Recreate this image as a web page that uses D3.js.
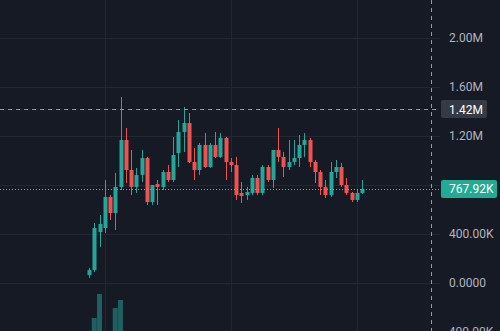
<html>
<head>
<meta charset="utf-8">
<script src="https://d3js.org/d3.v7.min.js"></script>
<style>
  body { margin: 0; background: #161a25; overflow: hidden; }
  svg { display: block; font-family: Roboto, "Noto Sans", sans-serif; }
  .grid line { stroke: #232733; stroke-width: 1; }
  .tick-label { fill: #b2b5be; font-size: 12px; }
</style>
</head>
<body>
<div id="chart"></div>
<script>
// OHLC in thousands
var opens  = [65, 106, 416, 449, 702, 571, 784, 1167, 922, 784, 882, 1020, 661, 808, 784, 906, 841, 1061, 1233, 1306,
              988, 922, 1127, 947, 1127, 1029, 1184, 988, 963, 735, 718, 735, 857, 735, 947, 841, 1086, 1029, 947, 988,
              1020, 1127, 1167, 988, 906, 784, 718, 906, 947, 800, 735, 678, 735];
var highs  = [122, 490, 555, 841, 718, 898, 1518, 1265, 1086, 939, 1086, 1029, 800, 841, 922, 963, 1192, 1331, 1437, 1388,
              1102, 1143, 1224, 1143, 1233, 1224, 1192, 1020, 1029, 824, 784, 882, 882, 963, 963, 1086, 1265, 1069, 1167, 1167,
              1208, 1224, 1184, 1004, 922, 841, 988, 1004, 980, 857, 743, 759, 841];
var lows   = [41, 90, 294, 408, 514, 433, 759, 816, 718, 735, 824, 637, 637, 637, 759, 824, 824, 947, 1069, 980,
              841, 882, 939, 939, 1020, 1020, 841, 906, 678, 653, 678, 718, 718, 718, 824, 776, 988, 865, 922, 963,
              947, 1029, 947, 816, 718, 694, 702, 857, 784, 718, 661, 661, 727];
var closes = [106, 449, 482, 702, 571, 784, 1167, 922, 784, 882, 1020, 661, 800, 784, 906, 841, 1045, 1233, 1306, 988,
              922, 1127, 947, 1127, 1029, 1184, 988, 963, 718, 710, 743, 857, 735, 947, 841, 1086, 1029, 947, 988, 1020,
              1127, 1167, 988, 906, 784, 718, 906, 947, 800, 735, 678, 735, 767.92];
var volumes = [4, 22, 46, 8, 6, 32, 40, 7, 5, 3, 4, 6, 3, 3, 2, 2, 5, 6, 7, 6,
               4, 3, 4, 3, 3, 3, 4, 2, 5, 3, 2, 3, 2, 4, 2, 4, 4, 3, 2, 2,
               3, 2, 3, 3, 4, 3, 4, 2, 3, 2, 2, 2, 2];
var priceTicks = [-400, 0, 400, 800, 1200, 1600, 2000];
var timeGridIdx = [3, 27, 51];
var lastPrice = 767.92;
var crossPrice = 1420;

var W = 500, H = 331;
var green = "#26a69a", red = "#ef5350";

var x = d3.scaleLinear().domain([0, opens.length - 1]).range([89, 362]);
var y = d3.scaleLinear().domain([0, 2000]).range([283, 38]);
var yv = d3.scaleLinear().domain([0, 60]).range([340, 280]);

function fmt(v) {
  if (v === 0) return "0.0000";
  var s = Math.abs(v) >= 1000 ? (Math.abs(v) / 1000).toFixed(2) + "M" : Math.abs(v).toFixed(2) + "K";
  return (v < 0 ? "\u2212" : "") + s;
}

var svg = d3.select("#chart").append("svg").attr("width", W).attr("height", H);
svg.append("rect").attr("width", W).attr("height", H).attr("fill", "#161a25");

var grid = svg.append("g").attr("class", "grid");
grid.selectAll(".h").data(priceTicks).enter().append("line")
  .attr("x1", 0).attr("x2", 440)
  .attr("y1", d => Math.round(y(d)) + 0.5).attr("y2", d => Math.round(y(d)) + 0.5);
grid.selectAll(".v").data(timeGridIdx).enter().append("line")
  .attr("x1", d => Math.round(x(d)) + 0.5).attr("x2", d => Math.round(x(d)) + 0.5)
  .attr("y1", 0).attr("y2", H);

var idx = d3.range(opens.length);

// volume
svg.append("g").selectAll("rect").data(idx).enter().append("rect")
  .attr("x", i => x(i) - 2.5).attr("width", 5)
  .attr("y", i => yv(volumes[i])).attr("height", i => yv(0) - yv(volumes[i]))
  .attr("fill", i => closes[i] >= opens[i] ? "rgba(38,166,154,0.5)" : "rgba(239,83,80,0.5)");

// candles
var c = svg.append("g").selectAll("g").data(idx).enter().append("g");
c.append("line")
  .attr("x1", i => Math.round(x(i)) + 0.5).attr("x2", i => Math.round(x(i)) + 0.5)
  .attr("y1", i => y(highs[i])).attr("y2", i => y(lows[i]))
  .attr("stroke", i => closes[i] >= opens[i] ? green : red).attr("stroke-width", 1);
c.append("rect")
  .attr("x", i => Math.round(x(i)) - 1.5).attr("width", 4)
  .attr("y", i => y(Math.max(opens[i], closes[i])))
  .attr("height", i => Math.max(1, Math.abs(y(opens[i]) - y(closes[i]))))
  .attr("fill", i => closes[i] >= opens[i] ? green : red);

// last price line
svg.append("line")
  .attr("x1", 0).attr("x2", 440)
  .attr("y1", Math.round(y(lastPrice)) + 0.5).attr("y2", Math.round(y(lastPrice)) + 0.5)
  .attr("stroke", "#7fa9a3").attr("stroke-dasharray", "1,2");

// crosshair
svg.append("line")
  .attr("x1", 0).attr("x2", 440)
  .attr("y1", Math.round(y(crossPrice)) + 0.5).attr("y2", Math.round(y(crossPrice)) + 0.5)
  .attr("stroke", "#9598a1").attr("stroke-dasharray", "4,4");
svg.append("line")
  .attr("x1", 431.5).attr("x2", 431.5).attr("y1", 0).attr("y2", H)
  .attr("stroke", "#9598a1").attr("stroke-dasharray", "4,4");

// price axis labels
svg.append("g").selectAll("text")
  .data(priceTicks.filter(d => Math.abs(y(d) - y(lastPrice)) > 14 && Math.abs(y(d) - y(crossPrice)) > 14))
  .enter().append("text")
  .attr("class", "tick-label")
  .attr("x", d => d < 0 ? 442 : 449).attr("y", d => y(d) + 4)
  .text(fmt);

svg.append("rect").attr("x", 441).attr("y", y(crossPrice) - 9).attr("width", 46).attr("height", 18)
  .attr("rx", 2).attr("fill", "#363a45");
svg.append("text").attr("x", 449).attr("y", y(crossPrice) + 4.5)
  .attr("fill", "#ffffff").style("font-size", "12px").text(fmt(crossPrice));

svg.append("rect").attr("x", 441).attr("y", y(lastPrice) - 9).attr("width", 56).attr("height", 18)
  .attr("rx", 2).attr("fill", "#22ab94");
svg.append("text").attr("x", 449).attr("y", y(lastPrice) + 4.5)
  .attr("fill", "#ffffff").style("font-size", "12px").text(fmt(lastPrice));
</script>
</body>
</html>
